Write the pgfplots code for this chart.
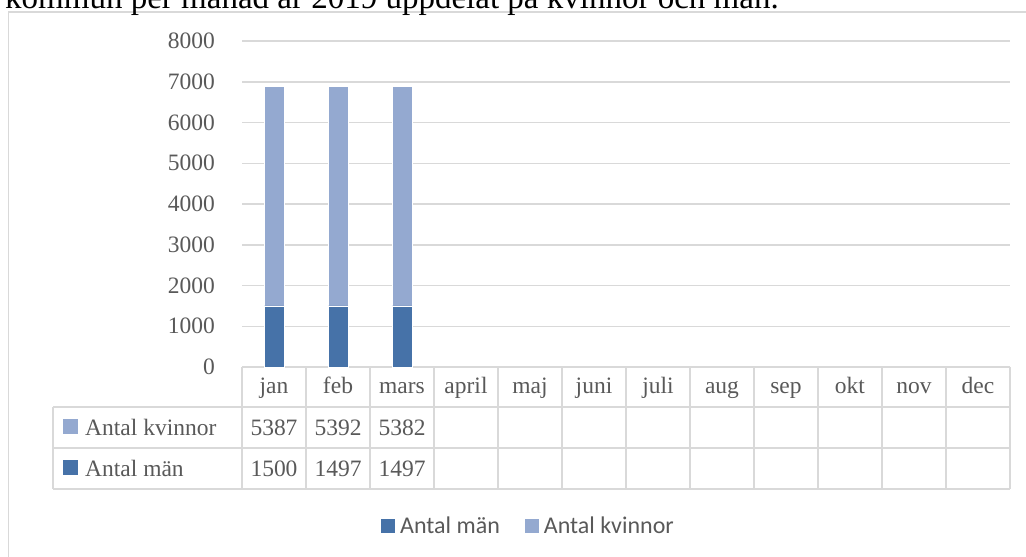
\documentclass[border=0pt]{standalone}
\usepackage{fontspec}
\setmainfont{Liberation Serif}
\newfontfamily\carlito{Carlito}
\usepackage{pgfplots}
\pgfplotsset{compat=1.18}
\definecolor{men}{HTML}{4672A8}
\definecolor{women}{HTML}{94A9D0}
\definecolor{gridc}{HTML}{D9D9D9}
\definecolor{txt}{HTML}{595959}
\newcommand{\tf}{\fontsize{23.5}{28}\selectfont}
\begin{document}
\begin{tikzpicture}
\path[use as bounding box] (0,0) rectangle (1026pt,557pt);
\clip (0,0) rectangle (1026pt,557pt);
\draw[gridc, line width=1.5pt] (1030pt,545pt) -- (8.5pt,545pt) -- (8.5pt,-5pt);
\node[anchor=base west, inner sep=0pt, font=\fontsize{33}{40}\selectfont] at (5pt,548pt) {kommun per månad år 2019 uppdelat på kvinnor och män.};
\begin{axis}[
 at={(242pt,190pt)}, anchor=south west, scale only axis, width=768pt, height=326pt,
 xmin=0, xmax=12, ymin=0, ymax=8000, clip=false,
 ybar stacked, bar width=20pt,
 ytick={0,1000,...,8000},
 xtick={0.5,1.5,...,11.5},
 xticklabels={jan,feb,mars,april,maj,juni,juli,aug,sep,okt,nov,dec},
 axis line style={draw=none}, major tick length=0pt,
 ymajorgrids, grid style={gridc, line width=1.5pt},
 /pgf/number format/assume math mode=true,
 /pgf/number format/1000 sep={},
 scaled y ticks=false,
 ticklabel style={font=\tf, text=txt, inner sep=0pt},
 yticklabel style={anchor=east, xshift=-27pt},
 xticklabel style={anchor=base, yshift=-27pt},
 legend style={at={(0.3724,-0.4877)}, anchor=center, draw=none, fill=none,
   font=\carlito\fontsize{24}{28}\selectfont, text=txt, legend columns=2,
   /tikz/every odd column/.append style={column sep=4pt},
   /tikz/every even column/.append style={column sep=24pt},
   nodes={inner sep=1pt}},
 legend image code/.code={\fill[#1,draw=none] (0pt,-7pt) rectangle (14pt,7pt);},
]
\addplot[fill=men, draw=white, line width=0.75pt] coordinates {(0.5,1500) (1.5,1497) (2.5,1497)};
\addplot[fill=women, draw=white, line width=0.75pt] coordinates {(0.5,5387) (1.5,5392) (2.5,5382)};
\legend{Antal män, Antal kvinnor}
\draw[gridc, line width=1.5pt] (axis cs:-2.953,-981.6) -- (axis cs:12,-981.6);
\draw[gridc, line width=1.5pt] (axis cs:-2.953,-1988) -- (axis cs:12,-1988);
\draw[gridc, line width=1.5pt] (axis cs:-2.953,-2994) -- (axis cs:12,-2994);
\draw[gridc, line width=1.5pt] (axis cs:-2.953,-981.6) -- (axis cs:-2.953,-2994);
\pgfplotsinvokeforeach{0,...,12}{\draw[gridc, line width=1.5pt] (axis cs:#1,0) -- (axis cs:#1,-2994);}
\node[anchor=base west, inner sep=0pt, font=\tf, text=txt] at (axis cs:-2.797,-1693) {\textcolor{women}{\rule[2pt]{15pt}{15pt}}\hspace{7pt}Antal kvinnor};
\node[anchor=base west, inner sep=0pt, font=\tf, text=txt] at (axis cs:-2.797,-2692) {\textcolor{men}{\rule[2pt]{15pt}{15pt}}\hspace{7pt}Antal män};
\node[anchor=base, inner sep=0pt, font=\tf, text=txt] at (axis cs:0.5,-1693) {5387};
\node[anchor=base, inner sep=0pt, font=\tf, text=txt] at (axis cs:1.5,-1693) {5392};
\node[anchor=base, inner sep=0pt, font=\tf, text=txt] at (axis cs:2.5,-1693) {5382};
\node[anchor=base, inner sep=0pt, font=\tf, text=txt] at (axis cs:0.5,-2692) {1500};
\node[anchor=base, inner sep=0pt, font=\tf, text=txt] at (axis cs:1.5,-2692) {1497};
\node[anchor=base, inner sep=0pt, font=\tf, text=txt] at (axis cs:2.5,-2692) {1497};
\end{axis}
\end{tikzpicture}
\end{document}
